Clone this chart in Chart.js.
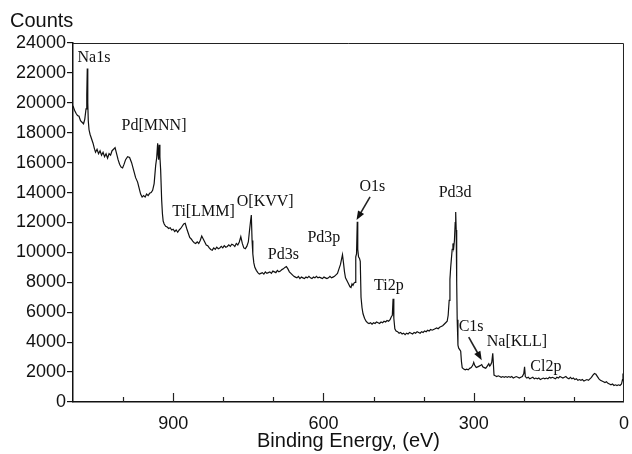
<!DOCTYPE html>
<html>
<head>
<meta charset="utf-8">
<script src="https://cdn.jsdelivr.net/npm/chart.js@4.4.1/dist/chart.umd.min.js"></script>
<style>
  html, body { margin: 0; padding: 0; background: #fff; }
  #wrap { width: 632px; height: 454px; }
</style>
</head>
<body>
<div id="wrap"><canvas id="myChart" width="632" height="454"></canvas></div>
<script>
// binding energy (eV)
const energy = [
    1100,1097,1094,1091,1088,1085,1082,1079,1076.5,1074,
    1072.5,1071.5,1070.5,1069.5,1068,1066,1063,1060,1057,1055,
    1052,1049,1046,1043,1040,1037,1034,1031,1028,1025,
    1022,1019,1016,1013,1010,1007,1004,1001,998,995,
    991,987,983,979,975,971,968,965,962,959,
    956,953,950,947,944,941,938,935,933,931,
    930,929,928,926.5,925,923,921.5,920,918,915,
    912,909,906,903,900,897,894,891,888,885,
    882,879,876,873,870,867,864,861,858,855,
    852,849,846,843,840,837,834,831,828,825,
    822,819,816,813,810,807,804,801,798,795,
    792,789,786,783,780,777,774,771,768,765,
    762,759,756,753,750,747.5,745.5,744,742.5,741,
    739,737,734,731,728,725,722,719,716,713,
    710,707,704,701,698,695,692,689,686,683,
    680,677,674,671,668,665,662,659,656,653,
    650,647,644,641,638,635,632,629,626,623,
    620,617,614,611,608,605,602,599,596,593,
    590,587,584,581,578,575,572,569,566,562,
    560,558,556,553,550,547,545,543,541,539,
    537,535.5,534,532.5,531.5,530,528,526.5,525,523,
    521,518,515,512,509,506,503,500,497,494,
    491,488,485,482,479,476,473,470,467,464.5,
    462.5,461,459.5,457.5,455,452,449,446,443,440,
    437,434,431,428,425,422,419,416,413,410,
    407,404,401,398,395,392,389,386,383,380,
    377,374,371,368,365,362,359,356,353,351,
    349,347.5,346,344.5,343,341.5,340,338.5,337,336,
    335,334,333,331.5,330,328,326,324.5,323,320,
    317,314,311,308,305,302,300,298,295,292,
    289,286,284,282,279,276,273,270,268,266,
    264,262,261,259.5,257,254,251,248,245,242,
    239,236,233,230,227,224,221,218,215,212,
    209,206,203,200,198.5,197,194,191,188,185,
    182,179,176,173,170,167,164,161,158,155,
    152,149,146,143,140,137,134,131,128,125,
    122,119,116,113,110,107,104,101,98,95,
    92,89,86,83,80,77,74,71,68,65,
    62,59,56,53,50,47,44,41,38,35,
    32,29,26,23,20,17,14,11,8,5,
    3,2,1,0
];

const counts = [
    19800,19500,19300,19150,19100,18800,18700,18600,18900,19600,
    20500,22300,20000,18800,18200,17900,17600,17300,16900,16700,
    16900,16600,16800,16500,16700,16400,16600,16300,16600,16500,
    16800,16900,17000,16600,16200,15900,15700,15650,15900,16200,
    16400,16350,16000,15500,15000,14700,14300,13900,13700,13800,
    13700,13900,13800,13950,14000,14150,14600,15800,16300,17300,
    16500,16200,17200,16400,15500,13500,12600,12100,11900,11750,
    11700,11600,11650,11500,11550,11400,11500,11350,11500,11600,
    11750,11900,11950,11600,11300,11000,10900,10750,10650,10600,
    10700,10600,10800,11100,10900,10700,10500,10450,10300,10200,
    10150,10300,10200,10350,10250,10300,10400,10300,10450,10350,
    10400,10500,10400,10550,10500,10400,10600,10500,10700,11050,
    10600,10300,10250,10400,10700,11500,12100,12500,10800,9900,
    9300,9000,8800,8650,8550,8600,8650,8550,8700,8600,
    8650,8700,8600,8750,8700,8650,8800,8700,8750,8850,
    8900,9000,9050,8900,8700,8600,8500,8400,8350,8300,
    8400,8250,8350,8300,8250,8350,8300,8400,8300,8250,
    8350,8300,8400,8300,8350,8300,8250,8350,8300,8250,
    8300,8400,8300,8350,8400,8500,8600,8900,9200,9850,
    9300,8700,8300,8100,7900,7700,7650,7900,7800,7950,
    8000,9700,9900,12050,10200,9700,9600,9400,7000,6300,
    5900,5600,5400,5300,5250,5300,5200,5300,5250,5350,
    5300,5250,5350,5300,5400,5350,5450,5400,5500,5700,
    5800,6900,5600,4900,4750,4700,4600,4650,4550,4600,
    4500,4600,4550,4650,4600,4550,4650,4600,4700,4650,
    4600,4700,4650,4750,4700,4800,4750,4850,4800,4850,
    4900,4950,4900,5000,5050,5100,5200,5300,5400,5800,
    6800,8200,9000,9600,10200,10600,10300,10800,12000,12700,
    11500,8000,5500,3800,3600,3500,3400,2700,2300,2200,
    2150,2200,2150,2250,2300,2450,2650,2450,2300,2350,
    2400,2450,2500,2350,2300,2250,2400,2550,2400,2500,
    2650,3250,2700,1800,1750,1700,1750,1700,1650,1700,
    1650,1700,1650,1700,1650,1700,1600,1650,1700,1650,
    1600,1650,1700,1900,2350,1700,1600,1650,1550,1600,
    1650,1550,1600,1550,1600,1500,1550,1600,1550,1600,
    1550,1650,1600,1650,1600,1550,1650,1600,1700,1650,
    1600,1650,1700,1600,1550,1650,1550,1600,1500,1550,
    1450,1500,1450,1500,1400,1450,1500,1450,1550,1650,
    1800,1900,1850,1700,1550,1450,1400,1350,1300,1350,
    1250,1200,1150,1200,1100,1150,1100,1150,1100,1200,
    1500,1900,1400,1300
];

// peak labels: text, energy / counts where the text starts
const peakNames = ["Na1s", "Pd[MNN]", "Ti[LMM]", "O[KVV]", "Pd3s", "Pd3p", "O1s", "Pd3d", "Ti2p", "C1s", "Na[KLL]", "Cl2p"];
const peakLabelE = [1091, 1003, 902, 773, 711, 632, 528, 370, 499, 330, 274, 187];
const peakLabelC = [23000, 18450, 12700, 13370, 9820, 10950, 14380, 13980, 7750, 5000, 4000, 2330];

// arrows: [fromE, fromC, toE, toC]
const arrows = [
    [507, 13710, 534, 12170],
    [310, 4334, 284, 2793]
];

const yTicks = [0, 24000, 2000];
const xMajor = [900, 600, 300, 0];

const frame = {
    id: "frame",
    afterDraw(chart) {
        const c = chart.ctx;
        const a = chart.chartArea;
        const x = chart.scales.x, y = chart.scales.y;
        c.save();
        c.strokeStyle = "#222";
        c.lineWidth = 1;
        c.beginPath();
        c.moveTo(a.left, a.top + 0.5);
        c.lineTo(a.right - 0.5, a.top + 0.5);
        c.lineTo(a.right - 0.5, a.bottom);
        c.stroke();

        // ticks pointing into the plot
        c.lineWidth = 1.2;
        for (let v = 100; v < 1100; v += 100) {
            const px = Math.round(x.getPixelForValue(v)) + 0.5;
            const len = xMajor.includes(v) ? 9 : 5;
            c.beginPath();
            c.moveTo(px, a.bottom);
            c.lineTo(px, a.bottom - len);
            c.stroke();
        }

        c.fillStyle = "#111";
        c.font = "20px 'Liberation Sans', Arial, sans-serif";
        c.textAlign = "left";
        c.textBaseline = "middle";
        c.fillText("Counts", 10, 21);

        c.font = "16px 'Liberation Serif', 'Times New Roman', serif";
        peakNames.forEach((t, i) => {
            c.fillText(t, x.getPixelForValue(peakLabelE[i]), y.getPixelForValue(peakLabelC[i]));
        });

        arrows.forEach(ar => {
            const x1 = x.getPixelForValue(ar[0]), y1 = y.getPixelForValue(ar[1]);
            const x2 = x.getPixelForValue(ar[2]), y2 = y.getPixelForValue(ar[3]);
            const ang = Math.atan2(y2 - y1, x2 - x1);
            c.lineWidth = 1.6;
            c.beginPath();
            c.moveTo(x1, y1);
            c.lineTo(x2 - 6 * Math.cos(ang), y2 - 6 * Math.sin(ang));
            c.stroke();
            c.beginPath();
            c.moveTo(x2, y2);
            c.lineTo(x2 - 9 * Math.cos(ang) + 3.5 * Math.sin(ang), y2 - 9 * Math.sin(ang) - 3.5 * Math.cos(ang));
            c.lineTo(x2 - 9 * Math.cos(ang) - 3.5 * Math.sin(ang), y2 - 9 * Math.sin(ang) + 3.5 * Math.cos(ang));
            c.closePath();
            c.fill();
        });
        c.restore();
    }
};

Chart.defaults.font.family = "'Liberation Sans', Arial, sans-serif";
Chart.defaults.color = "#111";

const ctx = document.getElementById('myChart');

const chart = new Chart(ctx, {
    type: "line",
    data: {
        datasets: [
            {
                label: "Survey",
                data: energy.map((e, i) => ({ x: e, y: counts[i] })),
                borderColor: "#111",
                borderWidth: 1.2,
                pointRadius: 0,
                tension: 0,
                fill: false,
            },
        ],
    },
    options: {
        responsive: false,
        animation: false,
        layout: { padding: { top: 43, right: 6, left: 0, bottom: 0 } },
        plugins: {
            legend: { display: false },
            tooltip: { enabled: false },
        },
        scales: {
            x: {
                type: "linear",
                reverse: true,
                min: 0,
                max: 1100,
                afterFit: s => { s.height = 52; },
                grid: { display: false },
                border: { color: "#111", width: 1.5 },
                ticks: {
                    stepSize: 100,
                    autoSkip: false,
                    maxRotation: 0,
                    padding: 3,
                    font: { size: 18 },
                    callback: v => xMajor.includes(v) ? String(v) : ""
                },
                title: {
                    display: true,
                    text: "Binding Energy, (eV)",
                    font: { size: 20 },
                    padding: { top: 2, bottom: 1 }
                }
            },
            y: {
                min: yTicks[0],
                max: yTicks[1],
                afterFit: s => { s.width = 73; },
                grid: { drawOnChartArea: false, tickLength: 6, color: "#111", lineWidth: 1.2 },
                border: { color: "#111", width: 1.5 },
                ticks: {
                    stepSize: yTicks[2],
                    autoSkip: false,
                    padding: 1,
                    font: { size: 18 },
                    callback: v => String(v)
                }
            }
        }
    },
    plugins: [frame]
});
</script>
</body>
</html>
